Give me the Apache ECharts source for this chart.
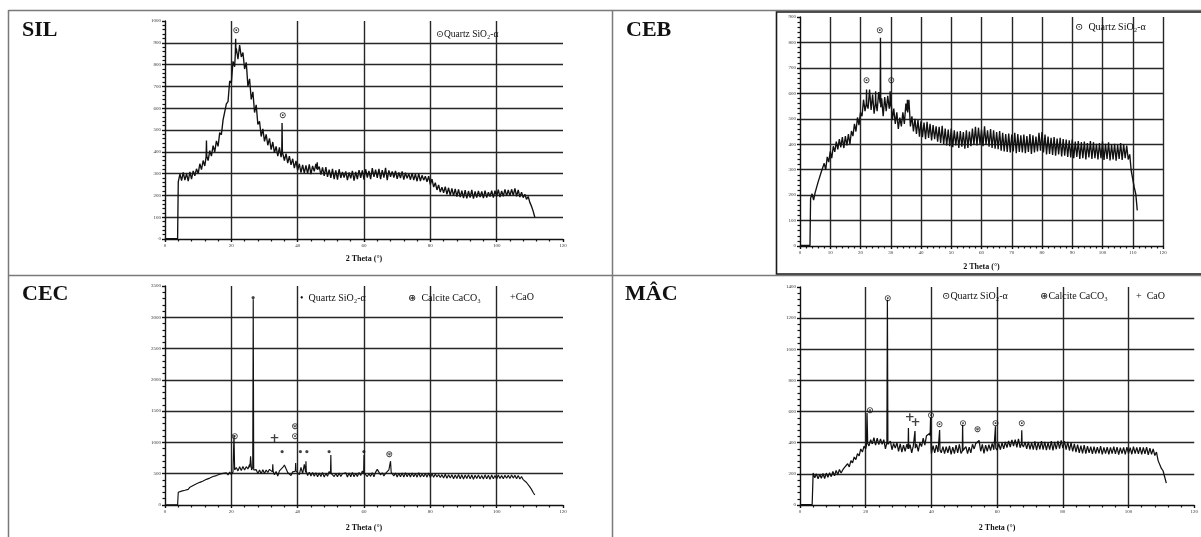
<!DOCTYPE html>
<html><head><meta charset="utf-8">
<script src="https://cdn.jsdelivr.net/npm/echarts@6/dist/echarts.min.js"></script>
<style>html,body{margin:0;padding:0;background:#fff}#c{width:1201px;height:537px}</style>
</head><body><div id="c"></div>
<script>
// ================= DATA =================
const scanStep = 0.5;            // 2θ step of the scan
const silStart = 4.0, cebStart = 3.5, cecStart = 4.0, macStart = 4.0;

const silIntensity = [
262,298,268,305,270,300,265,308,275,312,
290,322,300,345,318,360,335,385,360,405,
380,428,400,450,425,488,478,545,540,620,
630,725,715,815,790,875,825,890,835,855,
780,810,700,735,640,675,580,615,525,540,
470,505,448,480,430,462,410,445,395,425,
380,420,375,405,360,392,348,380,340,368,
325,358,315,345,305,340,302,338,300,342,
298,335,310,345,300,332,295,328,290,330,
285,318,280,322,275,315,272,320,280,308,
282,310,270,305,278,312,268,308,275,316,
280,315,272,320,282,312,275,325,285,318,
280,322,275,316,282,326,270,315,285,310,
282,312,276,305,280,310,272,304,278,300,
272,302,270,298,265,300,266,292,270,288,
262,288,250,275,238,258,225,248,215,238,
212,240,205,235,200,232,198,230,195,228,
192,222,188,224,186,220,190,225,185,218,
190,220,192,218,188,222,190,215,195,222,
190,222,195,226,192,220,196,228,198,225,
198,228,200,232,196,225,192,215,190,205,
182,195,168,150,128,100];
const silPeaks = [
 [[0,2],[3.8,2]],
 [[12.4,378],[12.5,452],[12.6,380]],
 [[21.2,850],[21.3,918],[21.4,852]],
 [[35.2,398],[35.3,532],[35.4,400]],
 [[45.8,320],[45.9,352],[46.0,318]]];
const silQuartz = [[21.5,955],[35.5,565]];

const cebIntensity = [
188,205,180,210,205,252,250,290,285,325,
300,350,330,372,345,392,370,410,380,420,
388,428,385,432,395,440,400,452,432,480,
450,505,475,525,510,575,530,600,540,615,
535,595,520,600,530,605,520,580,510,585,
530,590,540,600,495,540,480,525,460,505,
470,525,480,560,520,575,470,510,450,500,
440,495,430,490,428,485,420,488,425,480,
415,475,420,470,410,468,405,472,400,462,
395,458,392,462,388,455,395,450,385,452,
390,448,382,455,385,450,392,462,398,468,
395,465,400,458,392,470,398,455,390,460,
385,455,382,448,380,452,375,445,372,440,
370,442,368,438,372,445,365,440,370,435,
368,438,365,432,370,440,362,435,368,430,
372,445,375,448,368,438,360,430,362,425,
358,428,355,422,360,425,352,420,355,418,
350,415,348,418,345,410,350,412,342,408,
345,410,340,405,348,412,342,408,345,402,
340,405,345,410,338,402,342,408,336,400,
340,402,335,398,342,405,338,400,345,395,
340,360,295,290,230,205,140];
const cebPeaks = [
 [[0,2],[3.3,2]],
 [[21.9,560],[22.0,615],[22.1,555]],
 [[24.9,560],[25.0,608],[25.1,565]],
 [[26.5,560],[26.6,818],[26.7,545]],
 [[29.7,548],[29.8,608],[29.9,550]],
 [[35.4,530],[35.5,575],[35.6,525]]];
const cebQuartz = [[22.0,648],[26.4,845],[30.2,648]];

const cecIntensity = [
205,228,222,245,235,262,250,285,280,312,
305,338,330,362,350,385,372,410,395,430,
415,455,430,470,448,492,470,505,478,515,
482,525,490,530,560,600,545,610,550,615,
560,612,575,650,550,535,520,565,505,560,
500,565,505,560,520,570,545,520,482,535,
462,545,560,600,640,610,520,545,470,530,
560,500,560,485,600,500,650,560,470,525,
462,520,458,515,450,512,455,518,448,505,
460,535,540,520,455,505,450,510,455,500,
470,515,448,512,452,520,450,508,455,520,
470,545,540,520,455,500,458,515,450,525,
570,540,480,515,465,505,490,560,575,540,
465,512,448,508,452,510,445,515,450,508,
448,512,450,505,445,515,448,495,452,505,
445,510,440,500,445,495,448,488,440,485,
430,490,428,482,432,485,420,480,425,488,
420,482,415,478,422,485,418,480,412,475,
425,478,420,472,415,482,418,476,412,480,
420,472,415,478,425,470,418,476,428,474,
425,478,430,476,420,472,415,455,405,420,
360,335,290,250,200,160];
const cecPeaks = [
 [[0,2],[3.8,2]],
 [[20.6,510],[20.8,1120],[21.0,560]],
 [[25.6,600],[25.8,780],[26.1,560],[26.45,600],[26.6,3290],[26.75,560],[27.0,545]],
 [[32.4,530],[32.5,650],[32.6,540]],
 [[39.3,540],[39.4,670],[39.5,545]],
 [[42.4,520],[42.5,700],[42.6,540]],
 [[49.9,500],[50.0,800],[50.1,505]],
 [[59.9,495],[60.0,800],[60.1,510]],
 [[67.9,540],[68.0,700],[68.2,520]]];
const cecQuartzRing = [[21.0,1100],[39.2,1100]];
const cecQuartzDot = [[26.6,3300],[35.3,834],[40.8,834],[42.8,834],[49.5,834],[60.0,834]];
const cecCalcite = [[39.2,1250],[67.6,805]];
const cecLime = [[33.0,1060]];

const macIntensity = [
205,175,200,168,198,172,202,170,205,178,
208,182,215,188,222,195,228,205,225,240,
228,265,245,285,270,308,292,330,315,360,
340,378,360,400,380,420,392,432,385,430,
388,425,390,420,360,400,378,410,355,395,
365,400,345,392,340,385,345,390,335,388,
335,382,330,390,345,400,375,430,385,445,
440,460,330,382,335,385,340,372,335,375,
330,375,335,380,325,372,330,385,335,390,
332,392,350,375,330,372,335,390,360,395,
385,415,345,390,332,385,345,388,350,395,
355,410,352,395,355,400,360,405,368,412,
372,418,378,420,370,425,368,418,372,405,
360,405,358,400,355,408,352,402,358,410,
355,405,352,400,356,410,350,405,358,412,
362,415,365,410,355,405,350,400,345,392,
340,388,335,382,332,385,330,378,335,375,
328,375,330,372,332,378,325,370,330,372,
326,370,330,375,328,372,324,368,330,370,
325,372,330,368,326,375,330,370,328,372,
325,370,328,372,322,365,325,360,318,340,
285,280,235,220,180,140];
const macPeaks = [
 [[0,2],[3.7,2]],
 [[20.2,380],[20.4,590],[20.6,395]],
 [[26.45,400],[26.6,1318],[26.75,390]],
 [[32.9,360],[33.0,495],[33.1,360]],
 [[34.9,370],[35.0,475],[35.1,365]],
 [[39.6,445],[39.75,560],[39.9,360]],
 [[42.4,350],[42.5,482],[42.6,355]],
 [[49.4,345],[49.5,515],[49.6,350]],
 [[59.4,360],[59.5,505],[59.6,365]],
 [[67.4,395],[67.5,480],[67.6,390]]];
const macQuartz = [[21.3,605],[26.7,1322],[39.9,572],[42.5,515],[49.6,520],[59.5,520],[67.5,520]];
const macCalcite = [[54.0,482]];
const macLime = [[33.4,557],[35.2,530]];

const xTicksSIL = [0,20,40,60,80,100,120];
const yTicksSIL = [0,100,200,300,400,500,600,700,800,900,1000];
const xTicksCEB = [0,10,20,30,40,50,60,70,80,90,100,110,120];
const yTicksCEB = [0,100,200,300,400,500,600,700,800,900];
const xTicksCEC = [0,20,40,60,80,100,120];
const yTicksCEC = [0,500,1000,1500,2000,2500,3000,3500];
const xTicksMAC = [0,20,40,60,80,100,120];
const yTicksMAC = [0,200,400,600,800,1000,1200,1400];

const panelNames = ['SIL','CEB','CEC','MÂC'];
const axisTitle = '2 Theta (°)';

// ================= BUILD =================
function buildPattern(start, values, peaks) {
  const pts = values.map((v, i) => [start + i * scanStep, v]);
  const kept = pts.filter(p => !peaks.some(g => p[0] >= g[0][0] && p[0] <= g[g.length - 1][0]));
  peaks.forEach(g => g.forEach(p => kept.push(p)));
  kept.sort((a, b) => a[0] - b[0]);
  return kept;
}

const SERIF = '"Liberation Serif","DejaVu Serif",serif';
const grids = [
  {left:165, top:21, width:398, height:218},
  {left:800, top:17, width:363, height:229},
  {left:165, top:286, width:398, height:219},
  {left:800, top:287, width:397, height:218}
];
const xTicks = [xTicksSIL, xTicksCEB, xTicksCEC, xTicksMAC];
const yTicks = [yTicksSIL, yTicksCEB, yTicksCEC, yTicksMAC];
const nameGaps = [16, 17, 19, 19];
const showXMax = [false, true, false, false];
const traceWidth = [1.35, 1.35, 1.15, 1.25];

const gridLine = {color:'#262626', width:1.4};
const plainNum = v => String(v);
const xAxes = xTicks.map((t, i) => ({
  type:'value', gridIndex:i, min:t[0], max:t[t.length-1], interval:t[1]-t[0],
  axisLine:{show:true, onZero:false, lineStyle:{color:'#111', width:1.4}},
  axisTick:{show:true, length:3, lineStyle:{color:'#111', width:1.4}},
  minorTick:{show:true, splitNumber:5, length:2.5, lineStyle:{color:'#111', width:1.2}},
  axisLabel:{fontSize:5, margin:4, color:'#333', fontFamily:SERIF, formatter:plainNum},
  splitLine:{show:true, showMinLine:false, showMaxLine:showXMax[i], lineStyle:gridLine},
  name:axisTitle, nameLocation:'middle', nameGap:nameGaps[i],
  nameTextStyle:{fontSize:8, fontWeight:'bold', color:'#111', fontFamily:SERIF}
}));
const yAxes = yTicks.map((t, i) => ({
  type:'value', gridIndex:i, min:t[0], max:t[t.length-1], interval:t[1]-t[0],
  axisLine:{show:true, onZero:false, lineStyle:{color:'#111', width:1.4}},
  axisTick:{show:true, length:3, lineStyle:{color:'#111', width:1.4}},
  minorTick:{show:true, splitNumber:5, length:2.5, lineStyle:{color:'#111', width:1.2}},
  axisLabel:{fontSize:5, margin:4, color:'#333', fontFamily:SERIF, formatter:plainNum},
  splitLine:{show:true, showMinLine:false, showMaxLine:false, lineStyle:gridLine}
}));

const patterns = [
  buildPattern(silStart, silIntensity, silPeaks),
  buildPattern(cebStart, cebIntensity, cebPeaks),
  buildPattern(cecStart, cecIntensity, cecPeaks),
  buildPattern(macStart, macIntensity, macPeaks)
];

const series = patterns.map((d, i) => ({
  type:'line', xAxisIndex:i, yAxisIndex:i, data:d, showSymbol:false, symbol:'none',
  sampling:null, lineStyle:{color:'#111', width:traceWidth[i]}, z:3, silent:true
}));

function marks(i, data, glyph, size) {
  return {
    type:'scatter', xAxisIndex:i, yAxisIndex:i, data:data, symbolSize:1,
    itemStyle:{color:'rgba(0,0,0,0)'}, z:5, silent:true,
    label:{show:true, position:'inside', formatter:glyph, fontSize:size,
           color:'#111', fontWeight:'bold', fontFamily:'"DejaVu Sans",sans-serif'}
  };
}
series.push(
  marks(0, silQuartz, '⊙', 9),
  marks(1, cebQuartz, '⊙', 9),
  marks(2, cecQuartzRing, '⊙', 9),
  marks(2, cecQuartzDot, '•', 9),
  marks(2, cecCalcite, '⊛', 9),
  marks(2, cecLime, '+', 12),
  marks(3, macQuartz, '⊙', 9),
  marks(3, macCalcite, '⊛', 9),
  marks(3, macLime, '+', 12)
);

function txt(x, y, s, size, bold, family) {
  return {type:'text', x:x, y:y, z:10, silent:true,
    style:{text:s, x:0, y:0, font:(bold?'bold ':'') + size + 'px ' + (family||SERIF),
           fill:'#111', verticalAlign:'middle'}};
}
function line(x1, y1, x2, y2, c, w) {
  return {type:'line', z:1, silent:true, shape:{x1:x1,y1:y1,x2:x2,y2:y2}, style:{stroke:c, lineWidth:w}};
}
const graphic = [
  line(8.5, 10.5, 1201, 10.5, '#7a7a7a', 1.5),
  line(8.5, 10, 8.5, 537, '#7a7a7a', 1.5),
  line(612.5, 10, 612.5, 537, '#7a7a7a', 1.5),
  line(8, 275.5, 1201, 275.5, '#7a7a7a', 1.5),
  {type:'rect', z:2, silent:true, shape:{x:776.5, y:12, width:440, height:262}, style:{fill:'none', stroke:'#1a1a1a', lineWidth:1.6}},
  txt(22, 30.5, panelNames[0], 22, true),
  txt(626, 30.5, panelNames[1], 22, true),
  txt(22, 294, panelNames[2], 22, true),
  txt(625, 294, panelNames[3], 22, true),
  txt(436, 34, '⊙Quartz SiO₂-α', 9.5, false),
  txt(1075, 27, '⊙  Quartz SiO₂-α', 10, false),
  txt(300, 298, '•  Quartz SiO₂-α', 10, false),
  txt(408, 298, '⊛  Calcite CaCO₃', 10, false),
  txt(510, 297, '+CaO', 10, false),
  txt(942, 296, '⊙Quartz SiO₂-α', 10, false),
  txt(1040, 296, '⊛Calcite CaCO₃', 10, false),
  txt(1136, 296, '+  CaO', 10, false)
];

const chart = echarts.init(document.getElementById('c'), null, {renderer:'canvas'});
chart.setOption({
  animation:false, backgroundColor:'#fff',
  grid:grids.map(g => Object.assign({containLabel:false}, g)),
  xAxis:xAxes, yAxis:yAxes, series:series, graphic:graphic
});
</script>
</body></html>
